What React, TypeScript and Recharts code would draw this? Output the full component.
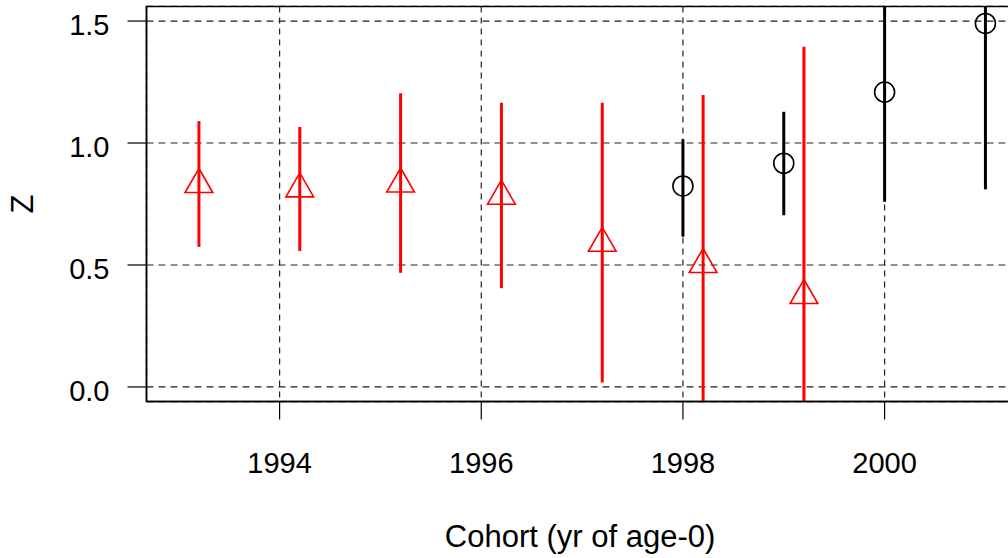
import React from 'react';
import {
  ComposedChart,
  Scatter,
  ErrorBar,
  XAxis,
  YAxis,
  CartesianGrid,
  ReferenceArea,
  Label,
} from 'recharts';

// red series (offset cohorts), triangles; bars running off the panel end at its edge
const redYears = [1993.2, 1994.2, 1995.2, 1996.2, 1997.2, 1998.2, 1999.2];
const redZ = [0.83, 0.812, 0.832, 0.782, 0.589, 0.502, 0.375];
const redLow = [0.574, 0.557, 0.468, 0.405, 0.018, -0.06, -0.06];
const redHigh = [1.09, 1.066, 1.204, 1.165, 1.165, 1.197, 1.395];

// black series, circles
const blackYears = [1998, 1999, 2000, 2001];
const blackZ = [0.824, 0.917, 1.209, 1.49];
const blackLow = [0.616, 0.704, 0.759, 0.81];
const blackHigh = [1.015, 1.128, 1.56, 1.56];

const xTicks = [1994, 1996, 1998, 2000];
const yTicks = [0, 0.5, 1, 1.5];

const redData = redYears.map((x, i) => ({
  x,
  z: redZ[i],
  err: [redZ[i] - redLow[i], redHigh[i] - redZ[i]],
}));
const blackData = blackYears.map((x, i) => ({
  x,
  z: blackZ[i],
  err: [blackZ[i] - blackLow[i], blackHigh[i] - blackZ[i]],
}));

const FONT = '"Liberation Sans", Arial, Helvetica, sans-serif';

const Triangle = (props: any) => {
  const { cx, cy } = props;
  const r = 16;
  const hw = r * 0.866;
  const pts = `${cx},${cy - r} ${cx + hw},${cy + r / 2} ${cx - hw},${cy + r / 2}`;
  return <polygon points={pts} fill="none" stroke="#ff0000" strokeWidth={1.6} />;
};

const Circle = (props: any) => {
  const { cx, cy } = props;
  return <circle cx={cx} cy={cy} r={10} fill="none" stroke="#000" strokeWidth={1.6} />;
};

const YTick = (props: any) => {
  const { x, y, payload } = props;
  return (
    <text x={x} y={y + 4} dy="0.355em" textAnchor="end" fontSize={29} fill="#000" fontFamily={FONT}>
      {Number(payload.value).toFixed(1)}
    </text>
  );
};

const XTick = (props: any) => {
  const { x, y, payload } = props;
  return (
    <text x={x} y={y} dy="0.71em" textAnchor="middle" fontSize={29} fill="#000" fontFamily={FONT}>
      {payload.value}
    </text>
  );
};

export default function App() {
  return (
    <div
      style={{
        position: 'absolute',
        left: 0,
        top: 0,
        width: 1008,
        height: 558,
        overflow: 'hidden',
        background: '#fff',
      }}
    >
      <ComposedChart
        width={1030}
        height={558}
        margin={{ top: 6.4, right: 12.3, bottom: 0, left: 0 }}
      >
        <CartesianGrid vertical={false} stroke="#222" strokeWidth={1.2} strokeDasharray="7 5" />
        <CartesianGrid horizontal={false} stroke="#222" strokeWidth={1.2} strokeDasharray="6 5" />
        <XAxis
          dataKey="x"
          type="number"
          domain={[1992.68, 2001.32]}
          ticks={xTicks}
          allowDataOverflow
          height={156.4}
          tickSize={18}
          tickMargin={33}
          tick={<XTick />}
          axisLine={{ stroke: '#000', strokeWidth: 1.5 }}
          tickLine={{ stroke: '#000', strokeWidth: 1.2 }}
        >
          <Label
            content={(p: any) => {
              const vb = p.viewBox;
              return (
                <text
                  x={vb.x + vb.width / 2 - 2}
                  y={vb.y + 145}
                  textAnchor="middle"
                  fontSize={31}
                  fill="#000"
                  fontFamily={FONT}
                >
                  Cohort (yr of age-0)
                </text>
              );
            }}
          />
        </XAxis>
        <YAxis
          dataKey="z"
          type="number"
          domain={[-0.06, 1.56]}
          ticks={yTicks}
          allowDataOverflow
          width={146.5}
          tickSize={19}
          tickMargin={18}
          tick={<YTick />}
          axisLine={{ stroke: '#000', strokeWidth: 1.5 }}
          tickLine={{ stroke: '#000', strokeWidth: 1.2 }}
        >
          <Label
            content={() => (
              <text
                x={22}
                y={204}
                transform="rotate(-90 22 204)"
                textAnchor="middle"
                dominantBaseline="central"
                fontSize={31}
                fill="#000"
                fontFamily={FONT}
              >
                Z
              </text>
            )}
          />
        </YAxis>
        <ReferenceArea
          x1={1992.68}
          x2={2001.32}
          y1={-0.06}
          y2={1.56}
          fill="none"
          stroke="#000"
          strokeWidth={1.5}
          fillOpacity={0}
        />
        <Scatter data={blackData} dataKey="z" shape={<Circle />} isAnimationActive={false}>
          <ErrorBar
            dataKey="err"
            direction="y"
            width={0}
            stroke="#000"
            strokeWidth={3}
            isAnimationActive={false}
          />
        </Scatter>
        <Scatter data={redData} dataKey="z" shape={<Triangle />} isAnimationActive={false}>
          <ErrorBar
            dataKey="err"
            direction="y"
            width={0}
            stroke="#ff0000"
            strokeWidth={3}
            isAnimationActive={false}
          />
        </Scatter>
      </ComposedChart>
    </div>
  );
}
